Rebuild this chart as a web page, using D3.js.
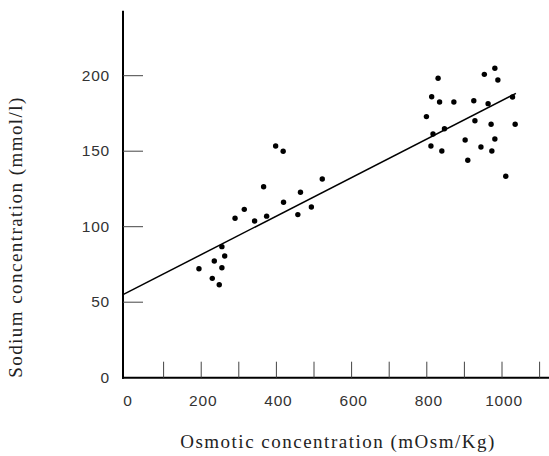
<!DOCTYPE html>
<html>
<head>
<meta charset="utf-8">
<script src="https://cdn.jsdelivr.net/npm/d3@7"></script>
<style>
  html, body { margin: 0; padding: 0; background: #fff; }
  svg { display: block; }
</style>
</head>
<body>
<svg id="chart" width="549" height="456"></svg>
<script>
// ---- data ----
const osmotic = [194, 229.5, 234.8, 248, 255, 255, 262.5, 290, 314.6, 342, 366, 374, 398, 418, 419, 457, 464, 493, 522,
  799, 813, 811, 816.5, 830, 834, 840, 847, 872, 902, 909, 925, 928, 944, 953, 963, 971, 973, 981, 981, 989, 1010, 1028, 1035];
const sodium = [72.2, 65.8, 77.3, 61.6, 72.8, 86.8, 80.6, 105.6, 111.5, 103.8, 126.5, 107, 153.4, 150, 116.2, 108, 122.8, 113, 131.6,
  172.9, 186.1, 153.4, 161.4, 198.3, 182.6, 150.1, 164.9, 182.6, 157.4, 144, 183.4, 170.2, 152.8, 200.9, 181.5, 167.8, 150.1, 158.1, 204.9, 197.2, 133.4, 185.9, 167.8];
const xTickValues = [100, 200, 300, 400, 500, 600, 700, 800, 900, 1000, 1100];
const xTickLabels = [0, 200, 400, 600, 800, 1000];
const yTickValues = [0, 50, 100, 150, 200];
const fitIntercept = 56;
const fitSlope = 0.1276;
const fitXRange = [-8, 1037];
const xTitle = "Osmotic concentration (mOsm/Kg)";
const yTitle = "Sodium concentration (mmol/l)";

// ---- scales ----
const svg = d3.select("#chart");
const x = d3.scaleLinear().domain([-8, 1125]).range([123, 549]);
const y = d3.scaleLinear().domain([0, 200]).range([377.7, 75.7]);
const yTop = 243;

// axes lines
svg.append("line")
  .attr("x1", x(-8)).attr("x2", x(-8))
  .attr("y1", y(0) + 1).attr("y2", y(yTop))
  .attr("stroke", "#000").attr("stroke-width", 2);
svg.append("line")
  .attr("x1", x(-8) - 1).attr("x2", x(1125))
  .attr("y1", y(0)).attr("y2", y(0))
  .attr("stroke", "#000").attr("stroke-width", 2);

// x ticks (inward, upwards)
svg.append("g").selectAll("line").data(xTickValues).join("line")
  .attr("x1", d => x(d)).attr("x2", d => x(d))
  .attr("y1", y(0)).attr("y2", y(0) - 16)
  .attr("stroke", "#444").attr("stroke-width", 1);

// y ticks (inward, right)
svg.append("g").selectAll("line").data(yTickValues.filter(d => d > 0)).join("line")
  .attr("x1", x(-8)).attr("x2", x(-8) + 20)
  .attr("y1", d => y(d)).attr("y2", d => y(d))
  .attr("stroke", "#444").attr("stroke-width", 1);

// tick labels
svg.append("g").selectAll("text").data(xTickLabels).join("text")
  .attr("x", d => x(d) + 2).attr("y", 406)
  .attr("text-anchor", "middle")
  .attr("font-family", "Liberation Sans, Arial, sans-serif")
  .attr("font-size", 15.5).attr("letter-spacing", 0.8)
  .attr("fill", "#333")
  .text(d => d);
svg.append("g").selectAll("text").data(yTickValues).join("text")
  .attr("x", 110).attr("y", d => y(d) + 5)
  .attr("text-anchor", "end")
  .attr("font-family", "Liberation Sans, Arial, sans-serif")
  .attr("font-size", 15.5).attr("letter-spacing", 0.8)
  .attr("fill", "#333")
  .text(d => d);

// regression line
svg.append("line")
  .attr("x1", x(fitXRange[0])).attr("y1", y(fitIntercept + fitSlope * fitXRange[0]))
  .attr("x2", x(fitXRange[1])).attr("y2", y(fitIntercept + fitSlope * fitXRange[1]))
  .attr("stroke", "#000").attr("stroke-width", 1.5);

// points
svg.append("g").selectAll("circle").data(osmotic.map((v, i) => [v, sodium[i]])).join("circle")
  .attr("cx", d => x(d[0])).attr("cy", d => y(d[1]))
  .attr("r", 2.7).attr("fill", "#000");

// titles
svg.append("text")
  .attr("x", 338).attr("y", 448)
  .attr("text-anchor", "middle")
  .attr("font-family", "Liberation Serif, Times New Roman, serif")
  .attr("font-size", 19).attr("letter-spacing", 1.5).attr("fill", "#222")
  .text(xTitle);
svg.append("text")
  .attr("transform", "translate(22,237) rotate(-90)")
  .attr("text-anchor", "middle")
  .attr("font-family", "Liberation Serif, Times New Roman, serif")
  .attr("font-size", 19).attr("letter-spacing", 1.45).attr("fill", "#222")
  .text(yTitle);
</script>
</body>
</html>
